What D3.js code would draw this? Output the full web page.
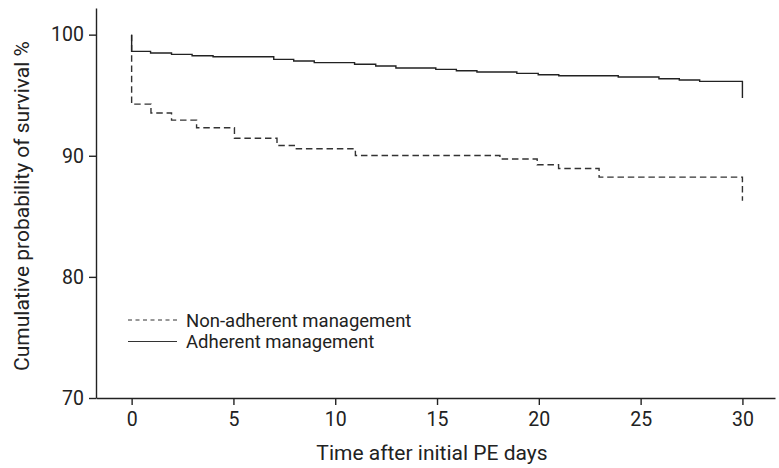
<!DOCTYPE html>
<html>
<head>
<meta charset="utf-8">
<script src="https://cdn.jsdelivr.net/npm/d3@7"></script>
<style>
body{margin:0;background:#fff;}
text{font-family:Roboto,"Liberation Sans",sans-serif;fill:#222;}
</style>
</head>
<body>
<svg width="779" height="468"></svg>
<script>
// step times (days) and survival (%)
const adherentDays=[0,0,0.93,1.96,2.97,4.0,6.98,7.96,8.97,10.95,11.99,12.98,14.94,15.95,16.96,18.92,19.97,20.98,23.9,25.9,26.9,27.9,30,30];
const adherentSurv=[100,98.62,98.49,98.37,98.26,98.18,97.96,97.83,97.69,97.55,97.41,97.25,97.13,97.02,96.92,96.80,96.69,96.61,96.50,96.36,96.26,96.14,96.14,94.77];
const nonAdherentDays=[0,0,0.95,1.96,3.19,5.05,7.14,7.99,10.99,18.09,19.92,20.97,22.96,30,30];
const nonAdherentSurv=[100,94.26,93.53,92.94,92.31,91.45,90.85,90.58,90.02,89.73,89.26,88.95,88.24,88.24,86.28];
const xTicks=[0,5,10,15,20,25,30];
const yTicks=[70,80,90,100];
const legendLabels=["Non-adherent management","Adherent management"];

const svg=d3.select("svg");
const x=d3.scaleLinear().domain([-1.75,31.6]).range([96,775]);
const y=d3.scaleLinear().domain([70,102.2]).range([398,8]);

// axes
const xAxis=svg.append("g").attr("transform","translate(0,398)")
  .call(d3.axisBottom(x).tickValues(xTicks).tickSize(7).tickSizeOuter(0).tickPadding(7));
const yAxis=svg.append("g").attr("transform","translate(96,0)")
  .call(d3.axisLeft(y).tickValues(yTicks).tickSize(7).tickSizeOuter(0).tickPadding(5));
[xAxis,yAxis].forEach(a=>{
  a.selectAll("path,line").attr("stroke","#222").attr("stroke-width",1.4);
  a.selectAll("text").style("font-size","19.5px").attr("fill","#222");
});

svg.append("text").attr("x",432).attr("y",460).attr("text-anchor","middle")
  .style("font-size","21px").text("Time after initial PE days");
svg.append("text").attr("transform","translate(29,206) rotate(-90)").attr("text-anchor","middle")
  .style("font-size","21px").text("Cumulative probability of survival %");

// survival curves
const line=d3.line().x(d=>x(d[0])).y(d=>y(d[1])).curve(d3.curveStepAfter);
svg.append("path").datum(d3.zip(nonAdherentDays,nonAdherentSurv))
  .attr("d",line).attr("fill","none").attr("stroke","#333").attr("stroke-width",1.4)
  .attr("stroke-dasharray","6.5,3.8");
svg.append("path").datum(d3.zip(adherentDays,adherentSurv))
  .attr("d",line).attr("fill","none").attr("stroke","#222").attr("stroke-width",1.4);

// legend
const legend=svg.append("g").selectAll("g").data(legendLabels).enter().append("g")
  .attr("transform",(d,i)=>"translate(128,"+(320+i*21.5)+")");
legend.append("line").attr("x1",0).attr("x2",49)
  .attr("stroke","#333").attr("stroke-width",1.1)
  .attr("stroke-dasharray",(d,i)=>i===0?"4,3.5":null);
legend.append("text").attr("x",58).attr("y",6.5).style("font-size","18.5px").text(d=>d);
</script>
</body>
</html>
